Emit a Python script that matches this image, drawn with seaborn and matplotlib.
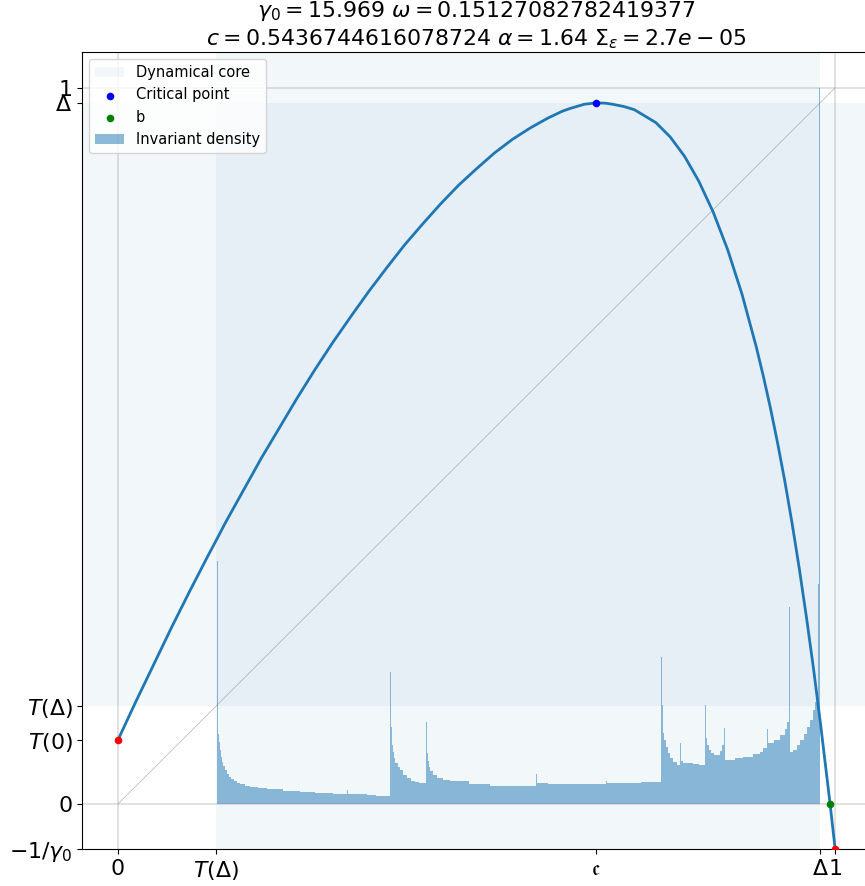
import numpy as np
import pandas as pd
import seaborn as sns
import matplotlib
matplotlib.use("Agg")
import matplotlib.pyplot as plt

gamma0 = 15.969
omega = 0.15127082782419377
c_param = 0.5436744616078724
alpha = 1.64
sigma_eps = 2.7e-05

# pontos notaveis
delta = 0.979
t_delta = 0.1367
t_zero = 0.0893
c_crit = 0.667
b_point = 0.993
low = -1 / gamma0

# curva T(x)
curve_x = [0.0, 0.025, 0.05, 0.075, 0.1, 0.125, 0.138, 0.15, 0.175, 0.2, 0.225,
           0.25, 0.275, 0.3, 0.325, 0.35, 0.375, 0.4, 0.425, 0.45, 0.475, 0.5,
           0.525, 0.55, 0.575, 0.6, 0.62, 0.63, 0.64, 0.65, 0.667, 0.68, 0.69,
           0.705, 0.72, 0.75, 0.77, 0.79, 0.81, 0.83, 0.85, 0.87, 0.89, 0.90,
           0.91, 0.92, 0.93, 0.94, 0.95, 0.96, 0.97, 0.98, 0.993, 1.0]
curve_y = [0.0893, 0.143, 0.195, 0.247, 0.297, 0.3455, 0.370, 0.393, 0.438,
           0.483, 0.525, 0.567, 0.607, 0.645, 0.681, 0.716, 0.749, 0.781,
           0.810, 0.838, 0.864, 0.887, 0.909, 0.928, 0.944, 0.958, 0.9675,
           0.971, 0.974, 0.977, 0.979, 0.9785, 0.977, 0.974, 0.9695, 0.9515,
           0.9315, 0.9045, 0.8695, 0.8265, 0.7745, 0.7125, 0.6385, 0.597,
           0.552, 0.503, 0.450, 0.392, 0.329, 0.261, 0.188, 0.109, 0.0,
           -0.0626]

diag = [0.0, 1.0]

# densidade invariante (bordas dos bins e alturas)
hist_edges = [0.1380, 0.1392, 0.1400, 0.1410, 0.1423, 0.1437, 0.1450, 0.1470,
              0.1492, 0.1520, 0.1550, 0.1580, 0.1620, 0.1660, 0.1700, 0.1770,
              0.1841, 0.1950, 0.2078, 0.2300, 0.2538, 0.2750, 0.2999, 0.3200,
              0.3214, 0.3473, 0.3600, 0.3794, 0.3808, 0.3815, 0.3825, 0.3835,
              0.3850, 0.3870, 0.3900, 0.3933, 0.3980, 0.4030, 0.4080, 0.4140,
              0.4200, 0.4296, 0.4310, 0.4320, 0.4335, 0.4355, 0.4393, 0.4450,
              0.4530, 0.4630, 0.4900, 0.5188, 0.5500, 0.5830, 0.5844, 0.6000,
              0.6346, 0.6806, 0.6820, 0.7043, 0.7300, 0.7573, 0.7587, 0.7595,
              0.7605, 0.7620, 0.7640, 0.7665, 0.7699, 0.7740, 0.7796, 0.7838,
              0.7852, 0.7880, 0.8019, 0.8100, 0.8187, 0.8201, 0.8215, 0.8235,
              0.8265, 0.8310, 0.8354, 0.8400, 0.8425, 0.8452, 0.8466, 0.8494,
              0.8600, 0.8717, 0.8850, 0.8954, 0.9000, 0.9052, 0.9066, 0.9150,
              0.9233, 0.9300, 0.9330, 0.9358, 0.9372, 0.9414, 0.9470, 0.9512,
              0.9560, 0.9610, 0.9650, 0.9693, 0.9720, 0.9749, 0.9763, 0.9777,
              0.9790]
hist_heights = [0.339, 0.110, 0.098, 0.087, 0.075, 0.066, 0.059, 0.053,
                0.047, 0.042, 0.038, 0.035, 0.032, 0.030, 0.028, 0.026,
                0.024, 0.0225, 0.021, 0.019, 0.017, 0.0155, 0.014, 0.020,
                0.0135, 0.0125, 0.011, 0.185, 0.107, 0.095, 0.083, 0.073,
                0.065, 0.058, 0.052, 0.047, 0.041, 0.036, 0.033, 0.031,
                0.029, 0.114, 0.071, 0.060, 0.052, 0.046, 0.040, 0.036,
                0.034, 0.032, 0.028, 0.026, 0.025, 0.042, 0.029, 0.028,
                0.028, 0.033, 0.029, 0.030, 0.031, 0.205, 0.138, 0.115,
                0.100, 0.090, 0.080, 0.071, 0.064, 0.059, 0.055, 0.085,
                0.060, 0.058, 0.056, 0.054, 0.138, 0.093, 0.083, 0.076,
                0.071, 0.068, 0.068, 0.074, 0.082, 0.106, 0.061, 0.062,
                0.064, 0.066, 0.070, 0.073, 0.078, 0.105, 0.085, 0.090,
                0.096, 0.105, 0.115, 0.275, 0.073, 0.075, 0.082, 0.089,
                0.098, 0.107, 0.118, 0.131, 0.143, 0.155, 0.308, 1.0]

xtick_pos = [0, t_delta, c_crit, delta, 1]
xtick_lab = ['0', r'$T(\Delta)$', r'$\mathfrak{c}$', r'$\Delta$', '1']
ytick_pos = [low, 0, t_zero, t_delta, delta, 1]
ytick_lab = [r'$-1/\gamma_0$', '0', r'$T(0)$', r'$T(\Delta)$', r'$\Delta$', '1']

df_curve = pd.DataFrame({'x': curve_x, 'y': curve_y})
centros = [(a + b) / 2 for a, b in zip(hist_edges[:-1], hist_edges[1:])]

fig = plt.figure(figsize=(8.65, 8.86), dpi=100)
ax = fig.add_axes([82 / 865, 37 / 886, 789 / 865, 797 / 886])

# nucleo dinamico
ax.axvspan(t_delta, delta, color='C0', alpha=0.055, lw=0, label='Dynamical core')
ax.axhspan(t_delta, delta, color='C0', alpha=0.055, lw=0)

for v in [0, 1]:
    ax.axvline(v, color='lightgrey', lw=1.2, alpha=0.8, zorder=0.5)
    ax.axhline(v, color='lightgrey', lw=1.2, alpha=0.8, zorder=0.5)
ax.plot(diag, diag, color='grey', lw=0.6, alpha=0.5, zorder=0.6)

sns.lineplot(data=df_curve, x='x', y='y', ax=ax, color='C0', lw=2, sort=False)

sns.scatterplot(x=[c_crit], y=[delta], ax=ax, color='blue', s=30, linewidth=0,
                zorder=3, label='Critical point')
sns.scatterplot(x=[b_point], y=[0], ax=ax, color='green', s=30, linewidth=0,
                zorder=3, label='b')
sns.scatterplot(x=[0, 1], y=[t_zero, low], ax=ax, color='red', s=30, linewidth=0,
                zorder=3)

sns.histplot(x=centros, weights=hist_heights, bins=hist_edges, ax=ax,
             element='step', fill=True, stat='count', color='C0', alpha=0.5,
             linewidth=0, label='Invariant density')

ax.set_xlim(-0.05, 1.05)
ax.set_ylim(low, 1.05)
ax.set_xticks(xtick_pos)
ax.set_xticklabels(xtick_lab, fontsize=15.8)
ax.set_yticks(ytick_pos)
ax.set_yticklabels(ytick_lab, fontsize=15.8)
ax.set_xlabel('')
ax.set_ylabel('')

ax.set_title(rf'$\gamma_0 = {gamma0}$ $\omega = {omega}$' + '\n' +
             rf'$c = {c_param}$ $\alpha = {alpha}$ $\Sigma_\varepsilon = {sigma_eps}$',
             fontsize=15.8, pad=5)
ax.legend(loc='upper left', fontsize=10.5)

fig.savefig('out.png', dpi=100)
